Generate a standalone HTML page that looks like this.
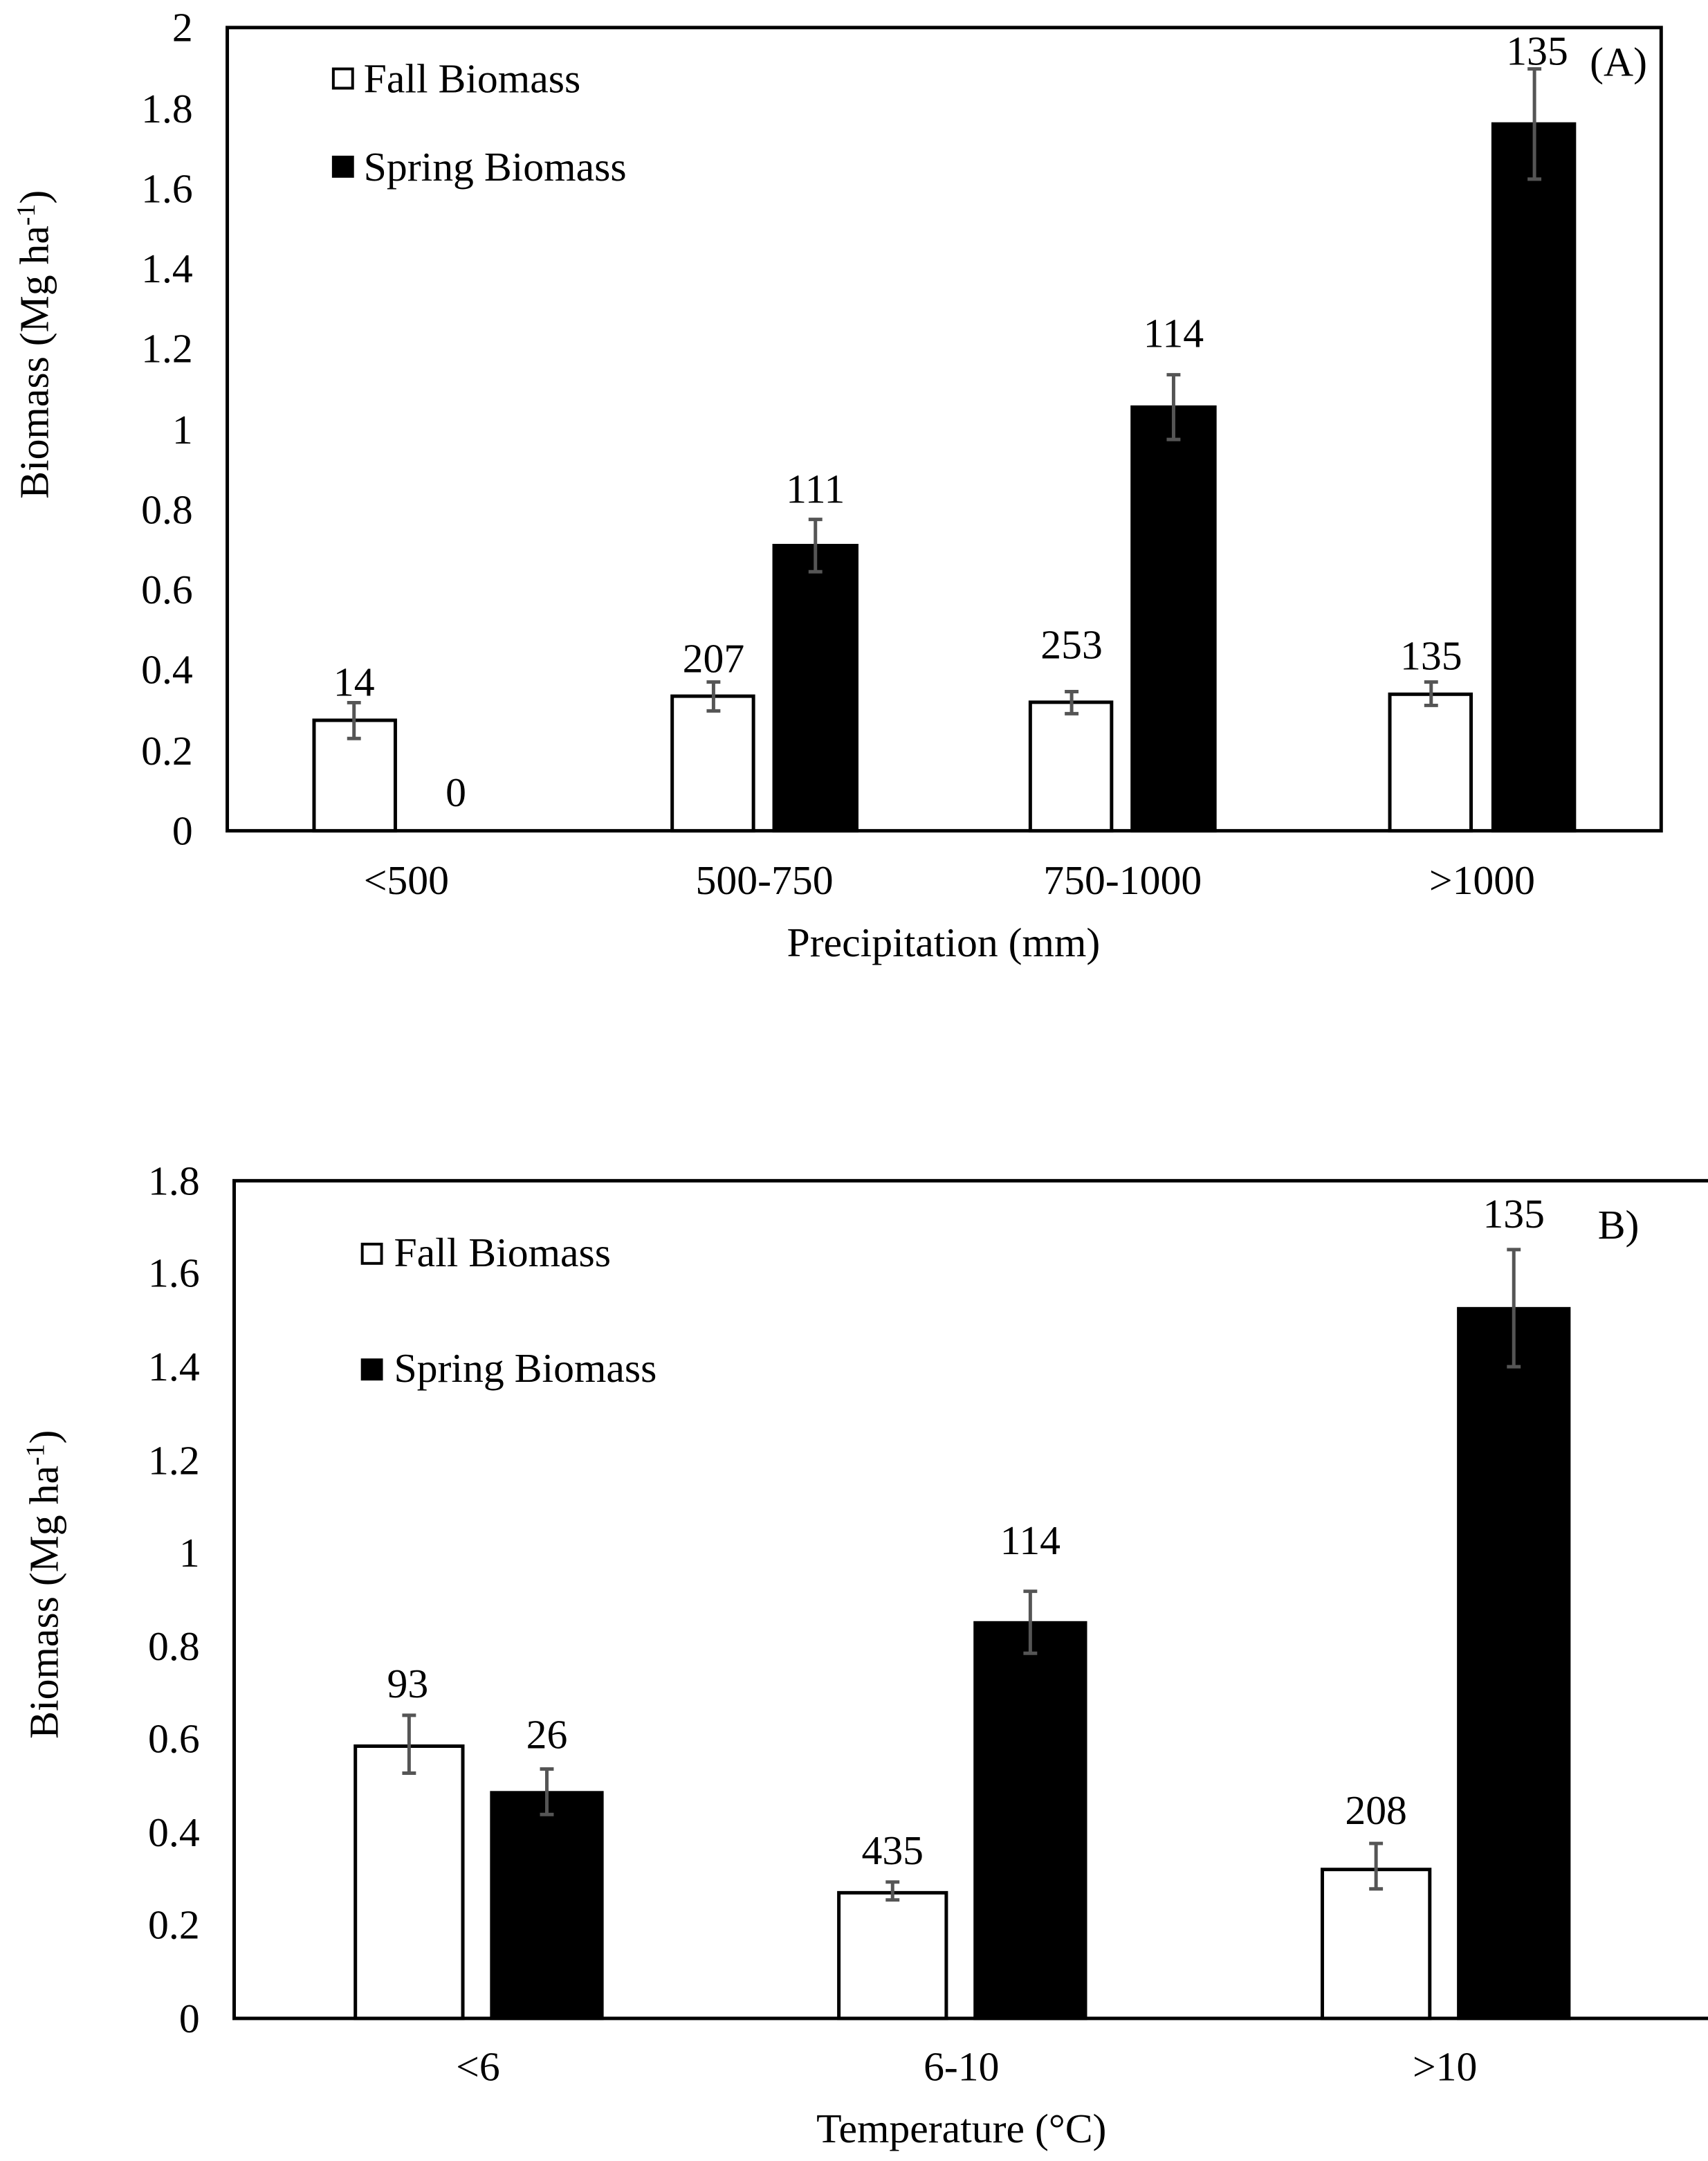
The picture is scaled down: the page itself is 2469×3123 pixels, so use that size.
<!DOCTYPE html>
<html><head><style>html,body{margin:0;padding:0;background:#fff}svg{display:block}</style></head>
<body>
<svg width="2469" height="3123" viewBox="0 0 1240 1568.5" preserveAspectRatio="none" xmlns="http://www.w3.org/2000/svg" font-family="Liberation Serif, serif" font-size="30">
<rect width="1240" height="1568.5" fill="#fff"/>
<!-- Chart A -->
<g>
<rect x="165" y="20" width="1041" height="583" fill="none" stroke="#000" stroke-width="2.5"/>
<g text-anchor="end">
<text x="140" y="613">0</text><text x="140" y="555">0.2</text><text x="140" y="496">0.4</text><text x="140" y="438">0.6</text><text x="140" y="380">0.8</text><text x="140" y="322">1</text><text x="140" y="263">1.2</text><text x="140" y="205">1.4</text><text x="140" y="147">1.6</text><text x="140" y="89">1.8</text><text x="140" y="30">2</text>
</g>
<text transform="translate(35,250) rotate(-90)" text-anchor="middle">Biomass (Mg ha<tspan dy="-10" font-size="19">-1</tspan><tspan dy="10">)</tspan></text>
<g stroke="#000" stroke-width="2.5">
<rect x="228" y="522.8" width="59" height="80.2" fill="#fff"/>
<rect x="488" y="505.3" width="59" height="97.7" fill="#fff"/>
<rect x="562" y="396" width="60" height="207" fill="#000"/>
<rect x="748" y="509.7" width="59" height="93.3" fill="#fff"/>
<rect x="822" y="295.5" width="60" height="307.5" fill="#000"/>
<rect x="1009" y="503.9" width="59" height="99.1" fill="#fff"/>
<rect x="1084" y="90" width="59" height="513" fill="#000"/>
</g>
<g stroke="#555" stroke-width="2.5" fill="none">
<path d="M257 510v26M252 510h10M252 536h10"/>
<path d="M518 495v21M513 495h10M513 516h10"/>
<path d="M592 377v38M587 377h10M587 415h10"/>
<path d="M778 502v16M773 502h10M773 518h10"/>
<path d="M852 272v47M847 272h10M847 319h10"/>
<path d="M1039 495v17M1034 495h10M1034 512h10"/>
<path d="M1114 50v80M1109 50h10M1109 130h10"/>
</g>
<g text-anchor="middle">
<text x="257" y="505">14</text><text x="331" y="585">0</text>
<text x="518" y="488">207</text><text x="592" y="365">111</text>
<text x="778" y="478">253</text><text x="852" y="252">114</text>
<text x="1039" y="486">135</text><text x="1116" y="47">135</text>
<text x="1175" y="55">(A)</text>
<text x="295" y="649">&lt;500</text><text x="555" y="649">500-750</text><text x="815" y="649">750-1000</text><text x="1076" y="649">&gt;1000</text>
<text x="685" y="694">Precipitation (mm)</text>
</g>
<rect x="242" y="50" width="14" height="14" fill="#fff" stroke="#000" stroke-width="2"/>
<text x="264" y="67">Fall Biomass</text>
<rect x="241" y="113" width="16" height="16" fill="#000"/>
<text x="264" y="131">Spring Biomass</text>
</g>
<!-- Chart B -->
<g>
<rect x="170" y="857" width="1075" height="608" fill="none" stroke="#000" stroke-width="2.5"/>
<g text-anchor="end">
<text x="145" y="1475">0</text><text x="145" y="1407">0.2</text><text x="145" y="1340">0.4</text><text x="145" y="1272">0.6</text><text x="145" y="1205">0.8</text><text x="145" y="1137">1</text><text x="145" y="1070">1.2</text><text x="145" y="1002">1.4</text><text x="145" y="934">1.6</text><text x="145" y="867">1.8</text>
</g>
<text transform="translate(42,1150) rotate(-90)" text-anchor="middle">Biomass (Mg ha<tspan dy="-10" font-size="19">-1</tspan><tspan dy="10">)</tspan></text>
<g stroke="#000" stroke-width="2.5">
<rect x="258" y="1267.4" width="78" height="197.6" fill="#fff"/>
<rect x="357" y="1301.2" width="80" height="163.8" fill="#000"/>
<rect x="609" y="1373.8" width="78" height="91.2" fill="#fff"/>
<rect x="708" y="1177.9" width="80" height="287.1" fill="#000"/>
<rect x="960" y="1356.9" width="78" height="108.1" fill="#fff"/>
<rect x="1059" y="949.9" width="80" height="515.1" fill="#000"/>
</g>
<g stroke="#555" stroke-width="2.5" fill="none">
<path d="M297 1245v42M292 1245h10M292 1287h10"/>
<path d="M397 1284v33M392 1284h10M392 1317h10"/>
<path d="M648 1366v13M643 1366h10M643 1379h10"/>
<path d="M748 1155v45M743 1155h10M743 1200h10"/>
<path d="M999 1338v33M994 1338h10M994 1371h10"/>
<path d="M1099 907v85M1094 907h10M1094 992h10"/>
</g>
<g text-anchor="middle">
<text x="296" y="1232">93</text><text x="397" y="1269">26</text>
<text x="648" y="1353">435</text><text x="748" y="1128">114</text>
<text x="999" y="1324">208</text><text x="1099" y="891">135</text>
<text x="1175" y="899">B)</text>
<text x="347" y="1510">&lt;6</text><text x="698" y="1510">6-10</text><text x="1049" y="1510">&gt;10</text>
<text x="698" y="1555">Temperature (°C)</text>
</g>
<rect x="263" y="903" width="14" height="14" fill="#fff" stroke="#000" stroke-width="2"/>
<text x="286" y="919">Fall Biomass</text>
<rect x="262" y="986" width="16" height="16" fill="#000"/>
<text x="286" y="1003">Spring Biomass</text>
</g>
</svg>
</body></html>
